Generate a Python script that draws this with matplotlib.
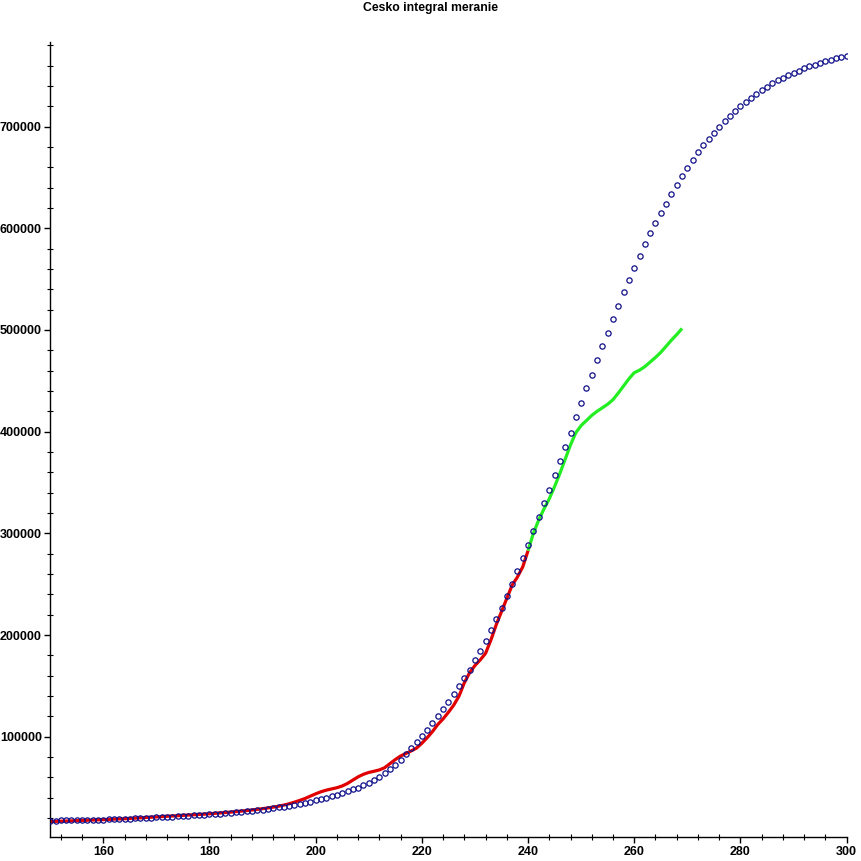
import numpy as np
import matplotlib
matplotlib.use("Agg")
import matplotlib.pyplot as plt
from matplotlib.ticker import MultipleLocator, FormatStrFormatter

# blue circles: fitted model, one point per day (150..300), values in thousands
model_days = list(range(150, 301))
model_k = [
    17.5, 17.5, 17.6, 17.7, 17.8, 17.9, 18.0, 18.1, 18.2, 18.3,    # 150-159
    18.5, 18.7, 18.9, 19.1, 19.3, 19.5, 19.7, 19.9, 20.1, 20.3,    # 160-169
    20.5, 20.8, 21.1, 21.4, 21.7, 22.0, 22.3, 22.6, 22.9, 23.2,    # 170-179
    23.5, 23.9, 24.3, 24.7, 25.1, 25.5, 26.0, 26.5, 27.1, 27.6,    # 180-189
    28.2, 28.9, 29.7, 30.5, 31.3, 32.1, 33.0, 34.0, 35.0, 36.1,    # 190-199
    37.3, 38.6, 40.0, 41.5, 43.0, 44.6, 46.3, 48.1, 50.0, 52.2,    # 200-209
    54.6, 57.3, 60.3, 63.8, 67.8, 72.4, 77.5, 83.0, 89.0, 95.0,    # 210-219
    101.0, 107.0, 113.5, 120.0, 127.0, 134.0, 141.5, 149.5, 157.5, 166.0,  # 220-229
    175.0, 184.5, 194.5, 205.0, 216.0, 227.0, 238.5, 250.5, 263.0, 276.0,  # 230-239
    289.0, 302.0, 316.0, 329.5, 343.0, 357.0, 371.0, 385.0, 399.0, 414.0,  # 240-249
    428.0, 442.5, 456.0, 470.0, 484.0, 497.5, 510.7, 524.0, 537.0, 548.8,  # 250-259
    560.6, 572.4, 584.5, 595.0, 604.8, 615.3, 624.3, 634.0, 643.0, 651.0,  # 260-269
    659.0, 667.0, 674.6, 681.8, 687.7, 694.0, 699.5, 705.4, 710.0, 715.0,  # 270-279
    720.0, 724.0, 728.0, 732.0, 735.6, 738.8, 742.5, 745.4, 748.0, 750.6,  # 280-289
    753.0, 755.0, 757.5, 759.5, 761.0, 763.0, 764.7, 766.0, 767.3, 768.6,  # 290-299
    769.6,                                                                 # 300
]

# red line: measured values, days 150..240 (thousands)
fit_days = list(range(150, 241))
fit_k = [
    16.5, 16.7, 16.9, 17.0, 17.2, 17.4, 17.6, 17.8, 18.0, 18.2,    # 150-159
    18.4, 18.6, 18.9, 19.1, 19.3, 19.6, 19.9, 20.2, 20.5, 20.8,    # 160-169
    21.1, 21.4, 21.7, 22.0, 22.3, 22.6, 22.9, 23.2, 23.5, 23.8,    # 170-179
    24.2, 24.6, 25.0, 25.4, 25.8, 26.3, 26.8, 27.3, 27.9, 28.5,    # 180-189
    29.2, 29.9, 30.7, 31.6, 32.7, 34.0, 35.6, 37.3, 39.2, 41.5,    # 190-199
    43.8, 45.8, 47.4, 48.6, 49.8, 51.5, 54.0, 57.3, 60.5, 63.0,    # 200-209
    64.8, 66.0, 67.3, 69.5, 73.5, 77.5, 81.0, 83.5, 86.0, 88.8,    # 210-219
    93.5, 99.0, 105.0, 112.0, 117.5, 124.0, 131.0, 140.0, 153.0, 163.0,  # 220-229
    170.0, 175.5, 182.0, 195.0, 210.0, 223.0, 236.0, 249.0, 257.0, 267.0,  # 230-239
    283.0,                                                                 # 240
]

# green line: measured values after day 240 (thousands)
new_days = list(range(240, 270))
new_k = [
    283.0, 300.0, 313.0, 324.0, 334.0, 346.0, 359.0, 373.0, 387.0, 399.0,  # 240-249
    406.0, 411.0, 416.0, 420.0, 423.5, 427.0, 431.5, 438.0, 445.0, 452.0,  # 250-259
    458.0, 460.5, 464.0, 468.5, 473.0, 478.0, 484.0, 490.0, 495.5, 501.5,  # 260-269
]

plt.rcParams["font.family"] = ["Liberation Sans", "DejaVu Sans"]
plt.rcParams["font.weight"] = "bold"

fig = plt.figure(figsize=(8.61, 8.61), dpi=100)
ax = fig.add_axes([0.0583, 0.0275, 0.925, 0.924])

ax.plot(fit_days, np.array(fit_k) * 1000, color="#e00000", lw=2.3, solid_capstyle="butt", zorder=2)
ax.plot(new_days, np.array(new_k) * 1000, color="#22ee22", lw=2.3, solid_capstyle="butt", zorder=2)
ax.plot(model_days, np.array(model_k) * 1000, "o", mfc="none", mec="#10108a",
        ms=3.8, mew=0.9, zorder=3)

ax.set_xlim(150, 300)
ax.set_ylim(1000, 783500)

ax.xaxis.set_minor_locator(MultipleLocator(4))
ax.yaxis.set_minor_locator(MultipleLocator(20000))
ax.yaxis.set_major_formatter(FormatStrFormatter("%d"))

ax.set_xticks([160, 180, 200, 220, 240, 260, 280, 300])
ax.set_yticks([100000, 200000, 300000, 400000, 500000, 600000, 700000])

for s in ["top", "right"]:
    ax.spines[s].set_visible(False)
for s in ["left", "bottom"]:
    ax.spines[s].set_linewidth(1.0)

ax.tick_params(which="major", direction="out", length=4, width=1, labelsize=9, pad=2)
ax.tick_params(which="minor", direction="inout", length=4, width=0.8)
for lbl in ax.get_xticklabels() + ax.get_yticklabels():
    lbl.set_fontweight("bold")

fig.text(0.5, 1 - 7.5 / 861, "Cesko integral meranie", ha="center", va="center",
         fontsize=8.8, fontweight="bold")

fig.savefig("out.png", dpi=100)
